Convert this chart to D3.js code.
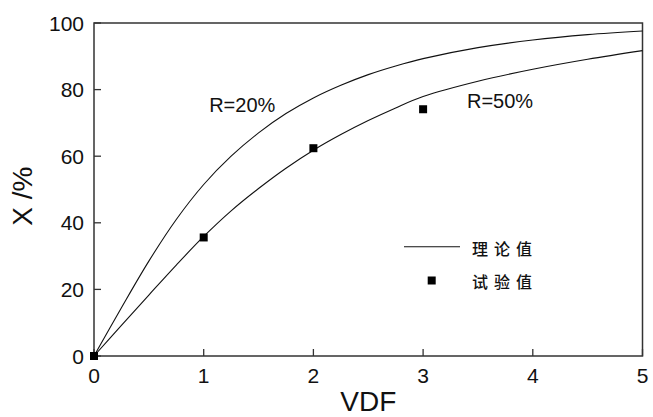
<!DOCTYPE html>
<html>
<head>
<meta charset="utf-8">
<script src="https://cdn.jsdelivr.net/npm/d3@7"></script>
<style>
  body { margin: 0; background: #fff; }
  svg { display: block; font-family: "Liberation Sans", Arial, sans-serif; }
  .tick-label { font-size: 21px; fill: #111; }
  .axis-title { font-size: 28px; fill: #111; }
  .note { font-size: 20px; fill: #111; }
  .legend-text { font-size: 16px; fill: #111; font-family: "Noto Sans CJK SC", sans-serif; font-weight: 500; letter-spacing: 6px; }
</style>
</head>
<body>
<svg id="chart" width="653" height="417"></svg>
<script>
const WIDTH = 653;
const HEIGHT = 417;
const margin = { top: 23, right: 10.5, bottom: 61, left: 94 };

// theoretical curves
const vdfGrid = [0, 0.25, 0.5, 0.75, 1, 1.25, 1.5, 1.75, 2, 2.25, 2.5, 2.75, 3, 3.5, 4, 4.5, 5];
const curveR20 = [0, 14.5, 28.5, 41, 51.5, 60, 67, 72.8, 77.5, 81.3, 84.5, 87.1, 89.3, 92.6, 94.9, 96.5, 97.6];
const curveR50 = [0, 9.2, 18.3, 27.3, 35.9, 43.6, 50.3, 56.4, 61.8, 66.5, 70.7, 74.5, 77.9, 82.5, 86.1, 89.1, 91.7];

// experimental points
const expVdf = [0, 1, 2, 3];
const expX = [0, 35.6, 62.4, 74.1];

const xTicks = [0, 1, 2, 3, 4, 5];
const yTicks = [0, 20, 40, 60, 80, 100];

const svg = d3.select("#chart");
const innerW = WIDTH - margin.left - margin.right;
const innerH = HEIGHT - margin.top - margin.bottom;

const x = d3.scaleLinear().domain([0, 5]).range([margin.left, margin.left + innerW]);
const y = d3.scaleLinear().domain([0, 100]).range([margin.top + innerH, margin.top]);

const TICK = 7;
const axisColor = "#333";

// frame
svg.append("rect")
    .attr("x", x(0)).attr("y", y(100))
    .attr("width", x(5) - x(0)).attr("height", y(0) - y(100))
    .attr("fill", "none").attr("stroke", axisColor).attr("stroke-width", 1.5);

// x ticks, pointing inward
svg.append("g").selectAll("line").data(xTicks).join("line")
    .attr("x1", d => x(d)).attr("x2", d => x(d))
    .attr("y1", y(0)).attr("y2", y(0) - TICK)
    .attr("stroke", axisColor).attr("stroke-width", 1.3);

svg.append("g").selectAll("text").data(xTicks).join("text")
    .attr("class", "tick-label")
    .attr("x", d => x(d)).attr("y", y(0) + 27)
    .attr("text-anchor", "middle")
    .text(d => d);

// y ticks
svg.append("g").selectAll("line").data(yTicks).join("line")
    .attr("x1", x(0)).attr("x2", x(0) + TICK)
    .attr("y1", d => y(d)).attr("y2", d => y(d))
    .attr("stroke", axisColor).attr("stroke-width", 1.3);

svg.append("g").selectAll("text").data(yTicks).join("text")
    .attr("class", "tick-label")
    .attr("x", x(0) - 10).attr("y", d => y(d) + 7.5)
    .attr("text-anchor", "end")
    .text(d => d);

// axis titles
svg.append("text")
    .attr("class", "axis-title")
    .attr("x", x(2.5)).attr("y", 411)
    .attr("text-anchor", "middle")
    .text("VDF");

svg.append("text")
    .attr("class", "axis-title")
    .attr("transform", `translate(32, ${y(48)}) rotate(-90)`)
    .attr("text-anchor", "middle")
    .text("X /%");

// curves
const line = d3.line()
    .x(d => x(d[0]))
    .y(d => y(d[1]))
    .curve(d3.curveCatmullRom);

[curveR20, curveR50].forEach(series => {
    svg.append("path")
        .datum(vdfGrid.map((v, i) => [v, series[i]]))
        .attr("d", line)
        .attr("fill", "none")
        .attr("stroke", "#111")
        .attr("stroke-width", 1.1);
});

// experimental markers
const MS = 8;
svg.append("g").selectAll("rect").data(expVdf.map((v, i) => [v, expX[i]])).join("rect")
    .attr("x", d => x(d[0]) - MS / 2)
    .attr("y", d => y(d[1]) - MS / 2)
    .attr("width", MS).attr("height", MS)
    .attr("fill", "#000");

// curve notes
svg.append("text").attr("class", "note")
    .attr("x", x(1.05)).attr("y", y(73.2))
    .text("R=20%");
svg.append("text").attr("class", "note")
    .attr("x", x(3.4)).attr("y", y(74.6))
    .text("R=50%");

// legend
svg.append("line")
    .attr("x1", 404).attr("x2", 460)
    .attr("y1", 246.7).attr("y2", 246.7)
    .attr("stroke", "#111").attr("stroke-width", 1.1);
svg.append("text").attr("class", "legend-text")
    .attr("x", 472).attr("y", 255)
    .text("理论值");

svg.append("rect")
    .attr("x", 431.7 - MS / 2).attr("y", 280.5 - MS / 2)
    .attr("width", MS).attr("height", MS)
    .attr("fill", "#000");
svg.append("text").attr("class", "legend-text")
    .attr("x", 472).attr("y", 288)
    .text("试验值");
</script>
</body>
</html>
